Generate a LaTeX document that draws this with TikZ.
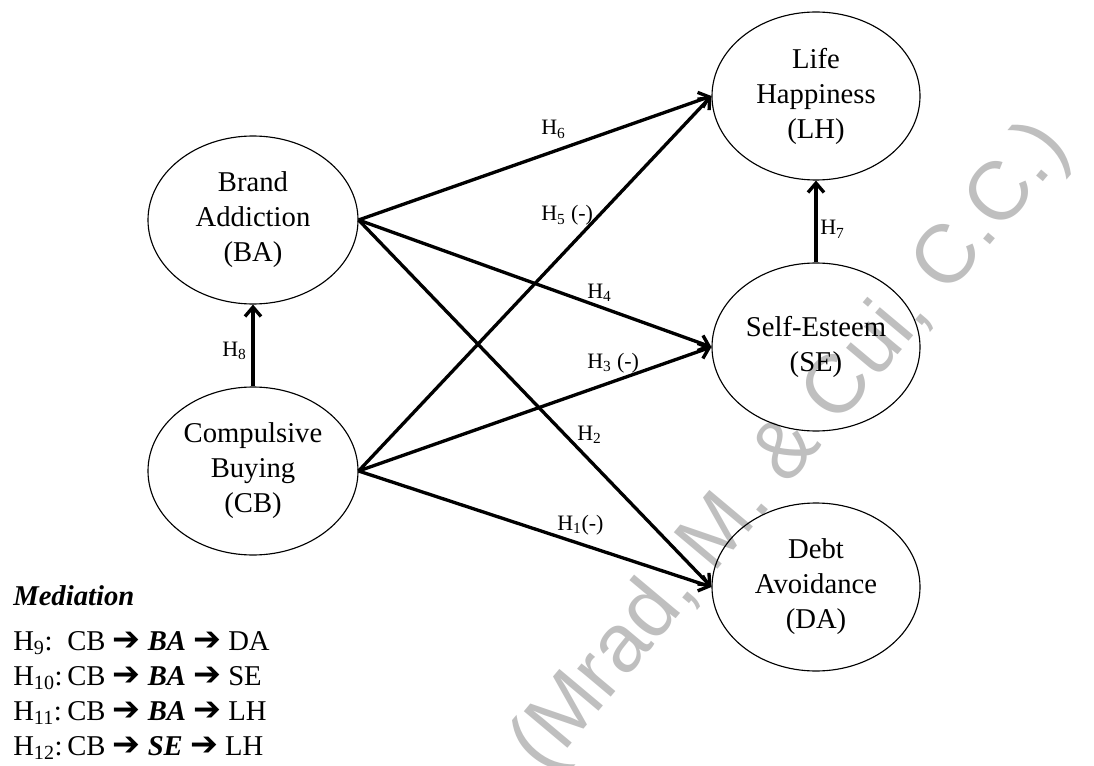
\documentclass[tikz,border=0pt]{standalone}
\usepackage{fontspec}
\setmainfont{Liberation Serif}
\newfontfamily\wmfont{Liberation Sans}
\newfontfamily\arrfont{DejaVu Sans}
\usetikzlibrary{shapes.geometric,arrows.meta}
\definecolor{wmgray}{RGB}{191,191,191}
\newcommand{\medarr}{{\arrfont\bfseries\fontsize{25pt}{26pt}\selectfont ➔}}
\begin{document}
\begin{tikzpicture}[x=0.75pt,y=-0.75pt,
  latent/.style={ellipse, draw, line width=0.85pt, inner sep=0pt, align=center,
    font=\fontsize{21.5pt}{26.25pt}\selectfont},
  leftlat/.style={latent, minimum width=157.5pt, minimum height=126pt},
  rightlat/.style={latent, minimum width=156pt, minimum height=126pt},
  pathline/.style={line width=2.5pt, -{Straight Barb[length=7pt,width=12pt]}},
  hlab/.style={anchor=base west, inner sep=0pt, font=\fontsize{16.5pt}{19pt}\selectfont},
  medline/.style={anchor=base west, inner sep=0pt, font=\fontsize{21.5pt}{26pt}\selectfont},
  watermark/.style={rotate=50, text=wmgray, inner sep=0pt,
    font=\wmfont\fontsize{62pt}{62pt}\selectfont}]
\useasboundingbox (0,0) rectangle (1094,766);

% watermark
\node[watermark] (wm) at (792,448) {(Mrad, M. \& Cui, C.C.)};

% latent constructs
\node[leftlat] (BA) at (253,220) {Brand\\Addiction\\(BA)};
\node[leftlat] (CB) at (253,471) {Compulsive\\Buying\\(CB)};
\node[rightlat] (LH) at (816,96) {Life\\Happiness\\(LH)};
\node[rightlat] (SE) at (816,347) {Self-Esteem\\(SE)};
\node[rightlat] (DA) at (816,587) {Debt\\Avoidance\\(DA)};

% paths
\draw[pathline] (BA.east) -- (LH.west);
\draw[pathline] (BA.east) -- (SE.west);
\draw[pathline] (BA.east) -- (DA.west);
\draw[pathline] (CB.east) -- (LH.west);
\draw[pathline] (CB.east) -- (SE.west);
\draw[pathline] (CB.east) -- (DA.west);
\draw[pathline] (CB.north) -- (BA.south);
\draw[pathline] (SE.north) -- (LH.south);

% path labels
\node[hlab] (h6) at (541,135) {H\textsubscript{6}};
\node[hlab] (h5) at (541,221) {H\textsubscript{5} (-)};
\node[hlab] (h4) at (587,298) {H\textsubscript{4}};
\node[hlab] (h3) at (587,368) {H\textsubscript{3} (-)};
\node[hlab] (h2) at (577,440) {H\textsubscript{2}};
\node[hlab] (h1) at (557,530) {H\textsubscript{1}(-)};
\node[hlab] (h7) at (820,235) {H\textsubscript{7}};
\node[hlab] (h8) at (222,356) {H\textsubscript{8}};

% mediation
\node[medline] (medtitle) at (13,605) {\textbf{\textit{Mediation}}};
\node[medline] (h9) at (13,650) {\makebox[40.5pt][l]{H\textsubscript{9}:}CB \medarr{} \textbf{\textit{BA}} \medarr{} DA};
\node[medline] (h10) at (13,685) {\makebox[40.5pt][l]{H\textsubscript{10}:}CB \medarr{} \textbf{\textit{BA}} \medarr{} SE};
\node[medline] (h11) at (13,720) {\makebox[40.5pt][l]{H\textsubscript{11}:}CB \medarr{} \textbf{\textit{BA}} \medarr{} LH};
\node[medline] (h12) at (13,755) {\makebox[40.5pt][l]{H\textsubscript{12}:}CB \medarr{} \textbf{\textit{SE}} \medarr{} LH};
\end{tikzpicture}
\end{document}
